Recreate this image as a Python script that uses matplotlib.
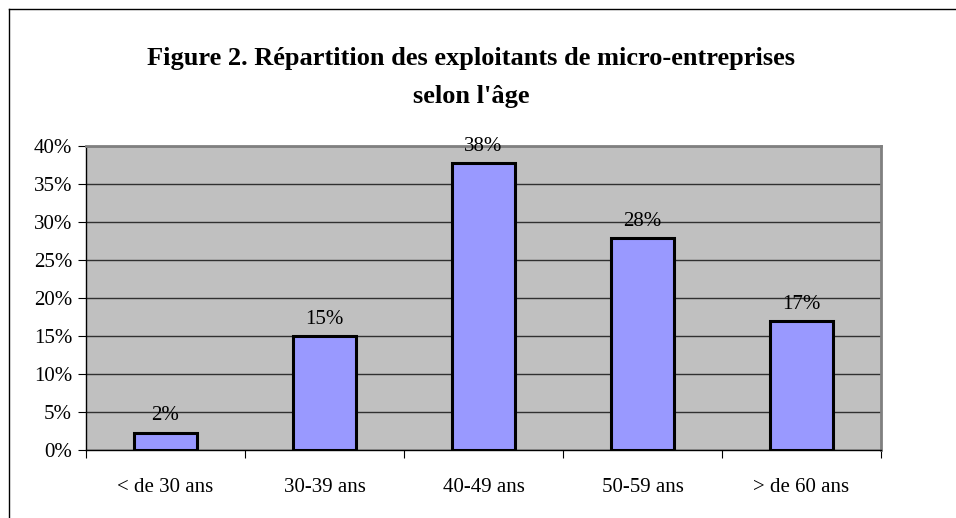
import matplotlib.pyplot as plt
from matplotlib.lines import Line2D

# Data
categories = ['< de 30 ans', '30-39 ans', '40-49 ans', '50-59 ans', '> de 60 ans']
values = [2.3, 15.0, 37.7, 27.9, 17.0]
labels = ['2%', '15%', '38%', '28%', '17%']
yticks = [0, 5, 10, 15, 20, 25, 30, 35, 40]

plt.rcParams['font.family'] = ['Liberation Serif', 'DejaVu Serif']

W, H = 956, 518
fig = plt.figure(figsize=(W / 100, H / 100), dpi=100)

# plot area in pixel coordinates: left 86, top 146, right 881, bottom 450
ax = fig.add_axes([86 / W, 1 - 450 / H, (881 - 86) / W, (450 - 146) / H])
ax.set_facecolor('#C0C0C0')

x = list(range(len(categories)))
ax.bar(x, values, width=0.4, color='#9999FF', edgecolor='black', linewidth=2.2, zorder=3)

for xi, v, lab in zip(x, values, labels):
    ax.annotate(lab, (xi, v), xytext=(0, 12), textcoords='offset points',
                ha='center', va='center', fontsize=15, zorder=4)

ax.set_xlim(-0.5, len(categories) - 0.5)
ax.set_ylim(0, 40)
ax.set_yticks(yticks)
ax.set_yticklabels([f'{t}%' for t in yticks], fontsize=15)
ax.yaxis.grid(True, color='#303030', linewidth=1.0, zorder=1)
ax.set_axisbelow(True)

# category labels between boundary ticks
ax.set_xticks([i - 0.5 for i in range(len(categories) + 1)])
ax.set_xticklabels([''] * (len(categories) + 1))
ax.set_xticks(x, minor=True)
ax.set_xticklabels(categories, minor=True, fontsize=15)
ax.tick_params(axis='x', which='minor', length=0, pad=20)
ax.tick_params(axis='x', which='major', length=6, direction='out', color='black')
ax.tick_params(axis='y', length=6, direction='out', color='black', pad=4)

for side in ['top', 'right']:
    ax.spines[side].set_color('#808080')
    ax.spines[side].set_linewidth(2)
ax.spines['left'].set_color('black')
ax.spines['bottom'].set_color('black')
ax.spines['left'].set_linewidth(1)
ax.spines['bottom'].set_linewidth(1)

fig.text(471 / W, 1 - 59 / H, 'Figure 2. Répartition des exploitants de micro-entreprises',
         ha='center', va='center', fontsize=19, fontweight='bold')
fig.text(471 / W, 1 - 96 / H, "selon l'âge",
         ha='center', va='center', fontsize=19, fontweight='bold')

# outer chart border (left and top visible in the reference)
fig.add_artist(Line2D([9 / W, 9 / W], [0, 1 - 9 / H], color='black', linewidth=1))
fig.add_artist(Line2D([9 / W, 1], [1 - 9 / H, 1 - 9 / H], color='black', linewidth=1))

plt.savefig('out.png', dpi=100)
plt.close()
